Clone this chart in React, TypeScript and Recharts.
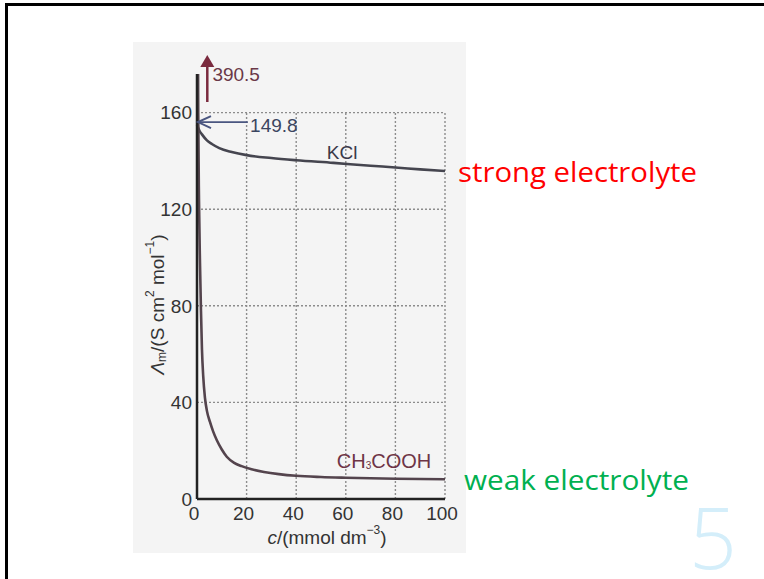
import React from "react";
import {
  LineChart,
  Line,
  XAxis,
  YAxis,
  ReferenceLine,
  ReferenceDot,
} from "recharts";

// ─── Data ────────────────────────────────────────────────────────────────────

const kclConc = [0, 1, 2, 4, 6, 9, 14, 20, 30, 40, 55, 70, 80, 90, 100];
const kclMolar = [155, 152.5, 151, 148.5, 147, 145.3, 143.7, 142.4, 141.2, 140.3, 139.2, 138, 137.3, 136.5, 135.8];

const aceticConc = [0, 0.2, 0.5, 0.8, 1.2, 1.6, 2, 2.5, 3.2, 4, 5.2, 6.5, 8, 10, 12, 15, 18, 22, 27, 33, 40, 50, 60, 80, 100];
const aceticMolar = [390.5, 250, 160, 124, 98, 78, 62, 51, 42, 36.5, 32, 28, 24.3, 20.5, 17.5, 15, 13.6, 12.3, 11.2, 10.3, 9.6, 9.1, 8.8, 8.4, 8.2];

const xTicks = [0, 20, 40, 60, 80, 100];
const yTicks = [0, 40, 80, 120, 160];
const gridX = [20, 40, 60, 80, 100];
const gridY = [40, 80, 120, 160];

const kclData = kclConc.map((c, i) => ({ c, v: kclMolar[i] }));
const aceticData = aceticConc.map((c, i) => ({ c, v: aceticMolar[i] }));

const FONT = "'Liberation Sans', Arial, sans-serif";
const SLIDE_FONT = "'Open Sans', 'Noto Sans', sans-serif";

// ─── Small shape helpers ─────────────────────────────────────────────────────

const textAt =
  (content: React.ReactNode, fill: string, size: number, anchor: "start" | "middle" = "start") =>
  (p: any) =>
    (
      <text
        x={p.cx}
        y={p.cy}
        fill={fill}
        fontSize={size}
        fontFamily={FONT}
        textAnchor={anchor}
        dominantBaseline="central"
      >
        {content}
      </text>
    );

const chevronLeft = (p: any) => (
  <polyline
    points={`${p.cx + 13},${p.cy - 6} ${p.cx},${p.cy} ${p.cx + 13},${p.cy + 6}`}
    fill="none"
    stroke="#4a5680"
    strokeWidth={2}
  />
);

const triangleUp = (p: any) => (
  <polygon
    points={`${p.cx},${p.cy} ${p.cx - 7},${p.cy + 12} ${p.cx + 7},${p.cy + 12}`}
    fill="#7a2a3e"
  />
);

function YLabel({ viewBox }: any) {
  const cx = viewBox.x + 20;
  const cy = viewBox.y + viewBox.height / 2 + 18;
  return (
    <text
      x={cx}
      y={cy}
      transform={`rotate(-90 ${cx} ${cy})`}
      textAnchor="middle"
      dominantBaseline="central"
      fontFamily={FONT}
      fontSize={19}
      fill="#333"
    >
      <tspan fontStyle="italic">Λ</tspan>
      <tspan fontSize={12} dy={5}>m</tspan>
      <tspan dy={-5}>/(S cm</tspan>
      <tspan fontSize={12} dy={-7}>2</tspan>
      <tspan dy={7}> mol</tspan>
      <tspan fontSize={12} dy={-7}>−1</tspan>
      <tspan dy={7}>)</tspan>
    </text>
  );
}

function XLabel({ viewBox }: any) {
  const cx = viewBox.x + 130;
  const cy = viewBox.y + 38;
  return (
    <text
      x={cx}
      y={cy}
      textAnchor="middle"
      dominantBaseline="central"
      fontFamily={FONT}
      fontSize={19}
      fill="#333"
    >
      <tspan fontStyle="italic">c</tspan>
      <tspan>/(mmol dm</tspan>
      <tspan fontSize={12} dy={-7}>−3</tspan>
      <tspan dy={7}>)</tspan>
    </text>
  );
}

// ─── Main component ──────────────────────────────────────────────────────────

export default function App() {
  return (
    <div
      style={{
        position: "absolute",
        left: 0,
        top: 0,
        width: 764,
        height: 579,
        background: "#fff",
        overflow: "hidden",
      }}
    >
      {/* slide frame */}
      <div
        style={{
          position: "absolute",
          left: 5,
          top: 3,
          width: 800,
          height: 620,
          borderTop: "3px solid #000",
          borderLeft: "3px solid #000",
        }}
      />
      {/* scanned figure background */}
      <div
        style={{
          position: "absolute",
          left: 133,
          top: 42,
          width: 333,
          height: 511,
          background: "#f4f4f4",
        }}
      />

      <div style={{ position: "absolute", left: 0, top: 0 }}>
        <LineChart
          width={764}
          height={579}
          margin={{ top: 74, right: 319, bottom: 50, left: 137 }}
        >
          <XAxis
            dataKey="c"
            type="number"
            domain={[0, 100]}
            ticks={xTicks}
            allowDuplicatedCategory={false}
            height={30}
            tickLine={false}
            tickSize={4}
            tickMargin={4}
            axisLine={{ stroke: "#222", strokeWidth: 2.5 }}
            tick={{ fontSize: 19, fill: "#333", fontFamily: FONT, dx: -3 }}
            label={<XLabel />}
          />
          <YAxis
            type="number"
            domain={[0, 176]}
            allowDataOverflow
            ticks={yTicks}
            width={60}
            tickLine={false}
            tickSize={4}
            tickMargin={1}
            axisLine={{ stroke: "#222", strokeWidth: 2.5 }}
            tick={{ fontSize: 19, fill: "#333", fontFamily: FONT }}
            label={<YLabel />}
          />

          {/* dotted grid, limited to the 0–160 box */}
          {gridY.map((y) => (
            <ReferenceLine
              key={`gy${y}`}
              segment={[{ x: 0, y }, { x: 100, y }]}
              stroke="#8c8c8c"
              strokeWidth={1.4}
              strokeDasharray="2 2"
            />
          ))}
          {gridX.map((x) => (
            <ReferenceLine
              key={`gx${x}`}
              segment={[{ x, y: 0 }, { x, y: 160 }]}
              stroke="#8c8c8c"
              strokeWidth={1.4}
              strokeDasharray="2 2"
            />
          ))}

          <Line
            data={kclData}
            dataKey="v"
            type="monotone"
            stroke="#45454f"
            strokeWidth={2.6}
            dot={false}
            isAnimationActive={false}
          />
          <Line
            data={aceticData}
            dataKey="v"
            type="monotone"
            stroke="#54444d"
            strokeWidth={2.6}
            dot={false}
            isAnimationActive={false}
          />

          {/* Λ° of KCl */}
          <ReferenceLine
            segment={[{ x: 0.6, y: 156.1 }, { x: 20.5, y: 156.1 }]}
            stroke="#4a5680"
            strokeWidth={1.8}
          />
          <ReferenceDot x={0.4} y={156.1} r={0} ifOverflow="visible" shape={chevronLeft} />
          <ReferenceDot x={21.4} y={154.5} r={0} ifOverflow="visible" shape={textAt("149.8", "#3b4560", 19)} />

          {/* Λ° of CH3COOH, off the scale */}
          <ReferenceLine
            segment={[{ x: 4.15, y: 164.4 }, { x: 4.15, y: 180 }]}
            stroke="#7a2a3e"
            strokeWidth={2.5}
            ifOverflow="visible"
          />
          <ReferenceDot x={4.15} y={183.9} r={0} ifOverflow="visible" shape={triangleUp} />
          <ReferenceDot x={6.2} y={175.6} r={0} ifOverflow="visible" shape={textAt("390.5", "#6a3848", 19)} />

          {/* series labels */}
          <ReferenceDot x={58.5} y={143.3} r={0} ifOverflow="visible" shape={textAt("KCl", "#3a3a4a", 19, "middle")} />
          <ReferenceDot
            x={75.4}
            y={15.7}
            r={0}
            ifOverflow="visible"
            shape={textAt(
              <>
                CH<tspan fontSize={10} dy={4}>3</tspan>
                <tspan dy={-4}>COOH</tspan>
              </>,
              "#6e3546",
              20,
              "middle"
            )}
          />
        </LineChart>
      </div>

      {/* slide annotations */}
      <svg
        width={764}
        height={579}
        style={{ position: "absolute", left: 0, top: 0, pointerEvents: "none" }}
      >
        <text
          x={458}
          y={182}
          fill="#ff0000"
          fontFamily={SLIDE_FONT}
          fontSize={28}
          textLength={239}
          lengthAdjust="spacingAndGlyphs"
        >
          strong electrolyte
        </text>
        <text
          x={464}
          y={490}
          fill="#00b050"
          fontFamily={SLIDE_FONT}
          fontSize={28}
          textLength={225}
          lengthAdjust="spacingAndGlyphs"
        >
          weak electrolyte
        </text>
        <text
          x={689}
          y={569}
          fill="#d4eefa"
          fontFamily={SLIDE_FONT}
          fontWeight={300}
          fontSize={84}
        >
          5
        </text>
      </svg>
    </div>
  );
}
